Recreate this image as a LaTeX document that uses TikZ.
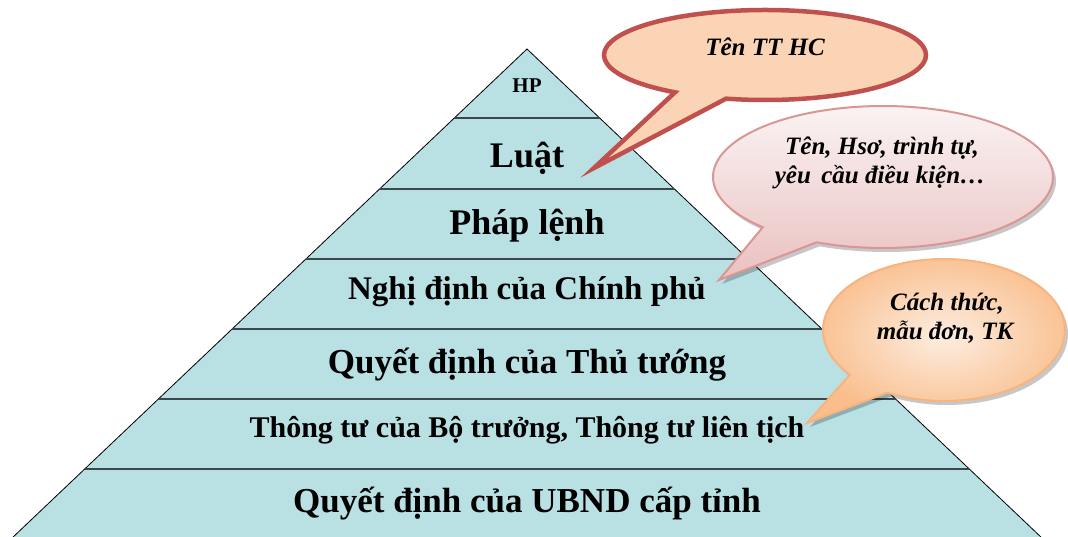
\documentclass[tikz,border=0pt]{standalone}
\usepackage{fontspec}
\setmainfont{Liberation Serif}
\usetikzlibrary{calc}
\definecolor{pyr}{RGB}{185,224,227}
\definecolor{sep}{RGB}{58,72,75}
\definecolor{b1fill}{RGB}{250,212,180}
\definecolor{b1line}{RGB}{192,80,77}
\definecolor{b2top}{RGB}{251,245,245}
\definecolor{b2bot}{RGB}{234,192,192}
\definecolor{b2line}{RGB}{217,150,148}
\definecolor{b3in}{RGB}{253,237,224}
\definecolor{b3out}{RGB}{249,190,140}
\definecolor{b3line}{RGB}{246,180,128}
\begin{document}
\begin{tikzpicture}[x=1pt,y=-1pt,
  lvl/.style={anchor=base,inner sep=0pt,font=\bfseries\fontsize{#1}{#1}\selectfont},
  btext/.style={anchor=base,inner sep=0pt,font=\bfseries\itshape\fontsize{#1}{#1}\selectfont},
  sepline/.style={draw=sep,line width=2.2pt},
  pyrstyle/.style={fill=pyr,draw=black,line width=0.8pt,line join=miter},
  shadowed/.style={preaction={fill=black,opacity=0.22,transform canvas={xshift=3pt,yshift=-4pt}}},
  bubA/.style={fill=b1fill,draw=b1line,line width=4.5pt,line join=miter,miter limit=12},
  bubB/.style={shadowed,top color=b2top,bottom color=b2bot,draw=b2line,line width=2pt,line join=miter,miter limit=12},
  bubC/.style={shadowed,inner color=b3in,outer color=b3out,draw=b3line,line width=2pt,line join=miter,miter limit=12}]
\useasboundingbox (0,0) rectangle (1068,537);
% pyramid
\coordinate (apex) at (527,49);
\coordinate (bl) at (11,539);
\coordinate (br) at (1043,539);
\draw[pyrstyle] (apex) -- (br) -- (bl) -- cycle;
\foreach \yy in {118,189,259,329,399,469}{
  \draw[sepline] ({527-1.053*(\yy-49)},\yy) -- ({527+1.053*(\yy-49)},\yy);
}
\node[lvl=21] (hp) at (527,93) {HP};
\node[lvl=36] (luat) at (527,168) {Luật};
\node[lvl=36] (pl) at (527,235) {Pháp lệnh};
\node[lvl=33] (nd) at (527,300) {Nghị định của Chính phủ};
\node[lvl=35] (qd) at (527,373) {Quyết định của Thủ tướng};
\node[lvl=30] (tt) at (527,437) {Thông tư của Bộ trưởng, Thông tư liên tịch};
\node[lvl=35] (ub) at (527,512) {Quyết định của UBND cấp tỉnh};
% bubble 1
\coordinate (c1) at (765,55);
\coordinate (t1) at (594,168);
\draw[bubA] (t1) -- ($(c1)+(124:161 and 45)$) arc[start angle=124,end angle=464,x radius=161,y radius=45] -- cycle;
\node[btext=25] (b1) at (765,56) {Tên TT HC};
% bubble 2
\coordinate (c2) at (883,177);
\coordinate (t2) at (719,280);
\path[bubB] (t2) -- ($(c2)+(135:170 and 71)$) arc[start angle=135,end angle=473,x radius=170,y radius=71] -- cycle;
\node[btext=25] (b2a) at (882,155) {Tên, Hsơ, trình tự,};
\node[btext=25] (b2b) at (880,184) {yêu\, cầu điều kiện…};
% bubble 3
\coordinate (c3) at (944,330);
\coordinate (t3) at (807,423);
\path[bubC] (t3) -- ($(c3)+(141:121 and 71)$) arc[start angle=141,end angle=478,x radius=121,y radius=71] -- cycle;
\node[btext=25] (b3a) at (947,311) {Cách thức,};
\node[btext=25] (b3b) at (945,339) {mẫu đơn, TK};
\end{tikzpicture}
\end{document}
